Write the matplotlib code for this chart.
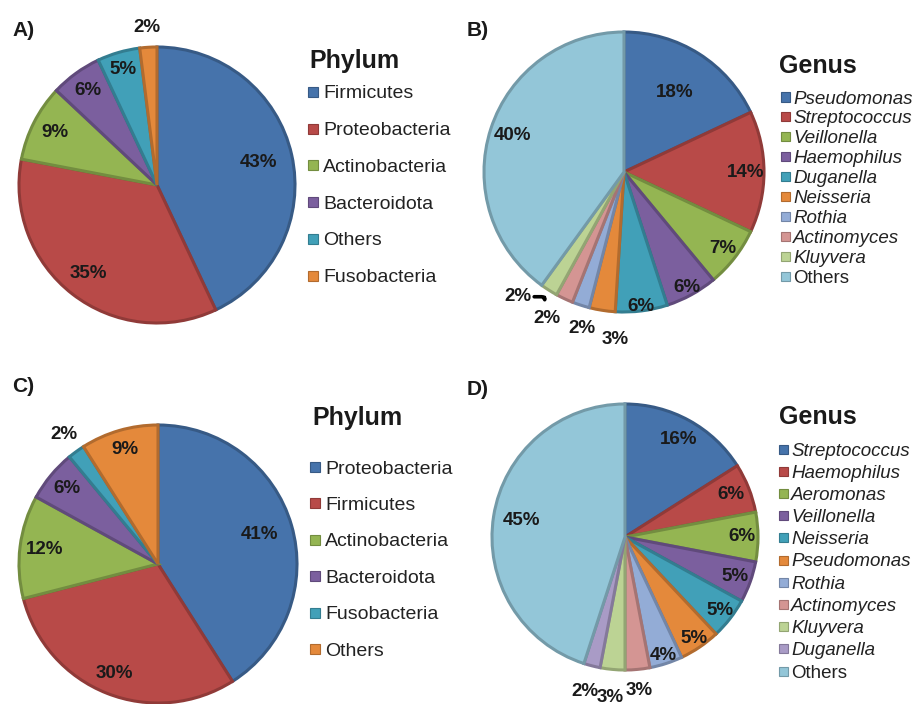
import matplotlib
matplotlib.use("Agg")
import matplotlib.pyplot as plt
from matplotlib.patches import Rectangle
from matplotlib.colors import to_rgb
import numpy as np

plt.rcParams['font.family'] = ['Liberation Sans', 'DejaVu Sans']

W, H = 916, 704

# A) phylum
phylum_a = ["Firmicutes", "Proteobacteria", "Actinobacteria", "Bacteroidota", "Others", "Fusobacteria"]
pct_a = [43, 35, 9, 6, 5, 2]

# B) genus
genus_b = ["Pseudomonas", "Streptococcus", "Veillonella", "Haemophilus", "Duganella",
           "Neisseria", "Rothia", "Actinomyces", "Kluyvera", "Others"]
pct_b = [18, 14, 7, 6, 6, 3, 2, 2, 2, 40]

# C) phylum
phylum_c = ["Proteobacteria", "Firmicutes", "Actinobacteria", "Bacteroidota", "Fusobacteria", "Others"]
pct_c = [41, 30, 12, 6, 2, 9]

# D) genus
genus_d = ["Streptococcus", "Haemophilus", "Aeromonas", "Veillonella", "Neisseria", "Pseudomonas",
           "Rothia", "Actinomyces", "Kluyvera", "Duganella", "Others"]
pct_d = [16, 6, 6, 5, 5, 5, 4, 3, 3, 2, 45]

palette = ['#4673ab', '#b84a48', '#94b552', '#7b5f9e', '#41a0b8', '#e4893b',
           '#93acd6', '#d49593', '#bcd394', '#a99bc6']
others_light = '#93c6d8'


def darker(c, f=0.78):
    r, g, b = to_rgb(c)
    return (r * f, g * f, b * f)


fig = plt.figure(figsize=(W / 100, H / 100), dpi=100)


def px(x, y):
    # pixel position (from top-left) -> figure fraction
    return x / W, 1 - y / H


def draw_legend(names, cols, title, italic, title_xy, mark_x, text_x, y0, dy, size, mark=10):
    fig.text(*px(*title_xy), title, ha='left', va='baseline', fontsize=18,
             fontweight='bold', color='#1a1a1a')
    for i, (n, c) in enumerate(zip(names, cols)):
        y = y0 + i * dy
        fig.patches.append(Rectangle(px(mark_x, y + mark / 2), mark / W, mark / H,
                                     transform=fig.transFigure,
                                     facecolor=c, edgecolor=darker(c), linewidth=0.8))
        style = 'italic' if italic and n != 'Others' else 'normal'
        fig.text(*px(text_x, y), n, ha='left', va='center_baseline', fontsize=size,
                 style=style, color='#222222')


def draw_pie(cx, cy, r, letter, letter_xy, values, cols, label_r, shift=None, leader=None):
    L = r * 1.4
    ax = fig.add_axes([(cx - L) / W, (H - cy - L) / H, 2 * L / W, 2 * L / H])
    wedges, _ = ax.pie(values, colors=cols, startangle=90, counterclock=False, radius=1,
                       wedgeprops=dict(linewidth=2.2))
    for w, c in zip(wedges, cols):
        w.set_edgecolor(darker(c))
    ax.set_xlim(-1.4, 1.4)
    ax.set_ylim(-1.4, 1.4)
    ax.axis('off')

    shift = shift or [0] * len(values)
    for i, (w, v) in enumerate(zip(wedges, values)):
        mid = np.deg2rad((w.theta1 + w.theta2) / 2)
        a = mid + np.deg2rad(shift[i])
        d = label_r[i]
        pos = (d * np.cos(a), d * np.sin(a))
        kw = dict(ha='center', va='center', fontsize=13.5, fontweight='bold', color='#1a1a1a')
        if leader == i:
            ax.annotate(f"{v}%", xy=(1.06 * np.cos(mid), 1.06 * np.sin(mid)), xytext=pos,
                        arrowprops=dict(arrowstyle='-', lw=2.6, color='k', shrinkA=0, shrinkB=0,
                                        connectionstyle='angle,angleA=0,angleB=95,rad=3'),
                        **kw)
        else:
            ax.text(*pos, f"{v}%", **kw)

    fig.text(*px(*letter_xy), letter, ha='left', va='center', fontsize=15,
             fontweight='bold', color='#1a1a1a')


cols_b = palette[:len(pct_b) - 1] + [others_light]
cols_d = palette[:len(pct_d) - 1] + [others_light]

# A
draw_pie(157, 185, 138, 'A)', (12, 30), pct_a, palette[:6],
         [0.75, 0.81, 0.83, 0.85, 0.87, 1.14])
draw_legend(phylum_a, palette[:6], 'Phylum', False, (309, 68), 308, 323, 92, 36.7, 14)

# B
draw_pie(624, 172, 140, 'B)', (467, 30), pct_b, cols_b,
         [0.67, 0.87, 0.89, 0.94, 0.97, 1.2, 1.16, 1.18, 1.17, 0.84],
         shift=[0, 0, 0, 0, 0, 6, 3, -2.5, -8, 0], leader=8)
draw_legend(genus_b, cols_b, 'Genus', True, (779, 73), 781, 793, 97, 19.9, 13.5, mark=9)

# C
draw_pie(158, 564, 139, 'C)', (12, 386), pct_c, palette[:6],
         [0.76, 0.85, 0.82, 0.85, 1.15, 0.86])
draw_legend(phylum_c, palette[:6], 'Phylum', False, (312, 425), 310, 325, 467, 36.4, 14)

# D
draw_pie(625, 537, 133, 'D)', (467, 389), pct_d, cols_d,
         [0.84, 0.86, 0.88, 0.88, 0.9, 0.92, 0.94, 1.16, 1.21, 1.2, 0.79])
draw_legend(genus_d, cols_d, 'Genus', True, (779, 424), 779, 791, 449, 22.2, 13.5, mark=9)

fig.savefig('out.png', dpi=100)
